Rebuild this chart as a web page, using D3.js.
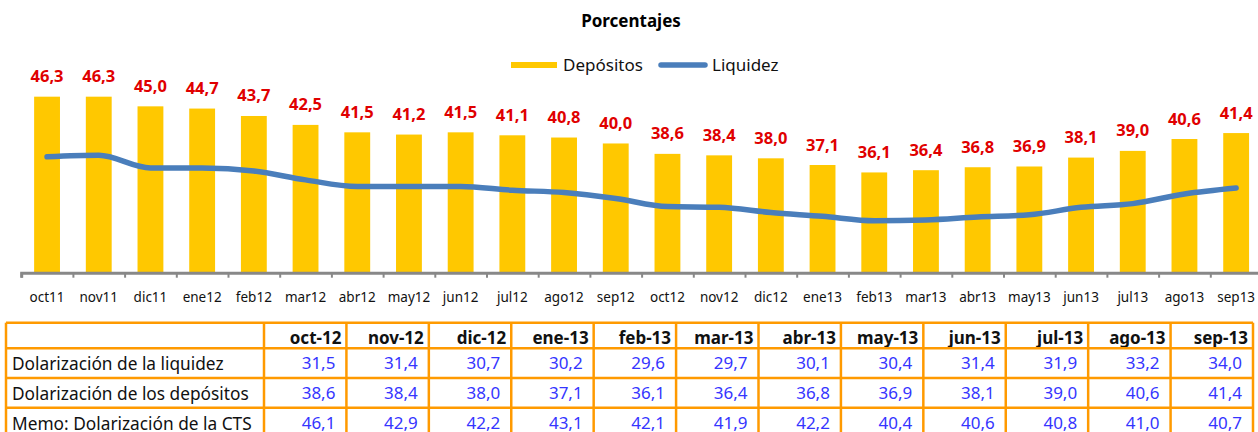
<!DOCTYPE html>
<html>
<head>
<meta charset="utf-8">
<script src="https://cdn.jsdelivr.net/npm/d3@7"></script>
<style>
  body { margin: 0; background: #fff; }
  svg { display: block; }
  text { font-family: "Noto Sans", "Open Sans", sans-serif; }
</style>
</head>
<body>
<div id="chart"></div>
<script>
// Dolarización: depósitos vs liquidez
const months = ["oct11","nov11","dic11","ene12","feb12","mar12","abr12","may12","jun12","jul12","ago12","sep12",
                "oct12","nov12","dic12","ene13","feb13","mar13","abr13","may13","jun13","jul13","ago13","sep13"];
const depositos = [46.3,46.3,45.0,44.7,43.7,42.5,41.5,41.2,41.5,41.1,40.8,40.0,
                   38.6,38.4,38.0,37.1,36.1,36.4,36.8,36.9,38.1,39.0,40.6,41.4];
const liquidez = [38.2,38.4,36.7,36.7,36.3,35.1,34.2,34.2,34.2,33.7,33.4,32.6,
                  31.5,31.4,30.7,30.2,29.6,29.7,30.1,30.4,31.4,31.9,33.2,34.0];

const tableCols = ["oct-12","nov-12","dic-12","ene-13","feb-13","mar-13","abr-13","may-13","jun-13","jul-13","ago-13","sep-13"];
const rowLabels = ["Dolarización de la liquidez","Dolarización de los depósitos","Memo: Dolarización de la CTS"];
const rowLiquidez = [31.5,31.4,30.7,30.2,29.6,29.7,30.1,30.4,31.4,31.9,33.2,34.0];
const rowDepositos = [38.6,38.4,38.0,37.1,36.1,36.4,36.8,36.9,38.1,39.0,40.6,41.4];
const rowCts = [46.1,42.9,42.2,43.1,42.1,41.9,42.2,40.4,40.6,40.8,41.0,40.7];

const W = 1258, H = 432;
const fmt = v => v.toFixed(1).replace(".", ",");

const svg = d3.select("#chart").append("svg")
    .attr("width", W).attr("height", H);

// Scales
const x = d3.scaleBand().domain(months).range([21.2, 1262]).paddingInner(0.5).paddingOuter(0.25);
const xEdge = d3.scaleLinear().domain([0, months.length]).range([21.2, 1262]);
const y = d3.scaleLinear().domain([22.6, 50]).range([272.7, 69.2]);

// Title
svg.append("text")
    .attr("x", 631).attr("y", 27)
    .attr("text-anchor", "middle")
    .attr("font-weight", "bold").attr("font-size", "17px")
    .text("Porcentajes");

// Legend
svg.append("rect").attr("x", 511).attr("y", 62).attr("width", 46).attr("height", 6).attr("fill", "#ffc800");
svg.append("text").attr("x", 563).attr("y", 70.5).attr("font-size", "17px").attr("fill", "#111").text("Depósitos");
svg.append("line").attr("x1", 661).attr("x2", 705).attr("y1", 65).attr("y2", 65)
    .attr("stroke", "#4a7ebb").attr("stroke-width", 5.5).attr("stroke-linecap", "round");
svg.append("text").attr("x", 712).attr("y", 70.5).attr("font-size", "17px").attr("fill", "#111").text("Liquidez");

// Bars
svg.selectAll(".bar")
    .data(depositos)
    .enter()
    .append("rect")
    .attr("class", "bar")
    .attr("x", (d, i) => x(months[i]))
    .attr("y", d => y(d))
    .attr("width", x.bandwidth())
    .attr("height", d => y.range()[0] - y(d))
    .attr("fill", "#ffc800");

// Bar labels
svg.selectAll(".lbl")
    .data(depositos)
    .enter()
    .append("text")
    .attr("class", "lbl")
    .attr("x", (d, i) => x(months[i]) + x.bandwidth() / 2)
    .attr("y", d => y(d) - 14.5)
    .attr("text-anchor", "middle")
    .attr("font-weight", "bold")
    .attr("font-size", "16.5px")
    .attr("fill", "#e00000")
    .text(fmt);

// Liquidez line
svg.append("path")
    .datum(liquidez)
    .attr("fill", "none")
    .attr("stroke", "#4a7ebb")
    .attr("stroke-width", 5.5)
    .attr("stroke-linecap", "round")
    .attr("stroke-linejoin", "round")
    .attr("d", d3.line()
        .x((d, i) => x(months[i]) + x.bandwidth() / 2)
        .y(d => y(d))
        .curve(d3.curveMonotoneX));

// X axis: tick marks at category boundaries
const axisG = svg.append("g")
    .attr("transform", `translate(0,${y.range()[0]})`)
    .call(d3.axisBottom(xEdge).ticks(months.length).tickSize(5).tickFormat(""));
axisG.select(".domain").attr("stroke", "#888").attr("stroke-width", 3);
axisG.selectAll(".tick line").attr("stroke", "#888").attr("stroke-width", 2);

// X labels
const labG = svg.append("g")
    .attr("transform", `translate(0,${y.range()[0]})`)
    .call(d3.axisBottom(x).tickSize(0).tickPadding(20));
labG.select(".domain").remove();
labG.selectAll("text")
    .attr("font-family", "'Noto Sans', sans-serif")
    .attr("font-size", "13.5px").attr("fill", "#111");

// Table
const tableRows = [rowLiquidez, rowDepositos, rowCts];
const tLeft = 6, tLabelRight = 264, tRight = 1253;
const headTop = 322.7, headH = 25.6, rowH = 29.7;
const cx = d3.scaleBand().domain(tableCols).range([tLabelRight, tRight]);
const rowTop = i => headTop + headH + i * rowH;

const tg = svg.append("g");
// header
tg.selectAll(".hd")
    .data(tableCols)
    .enter()
    .append("text")
    .attr("x", d => cx(d) + cx.bandwidth() - 5)
    .attr("y", headTop + 21)
    .attr("text-anchor", "end")
    .attr("font-weight", "bold")
    .attr("font-size", "17px")
    .attr("fill", "#111")
    .text(d => d);

// row labels
tg.selectAll(".rl")
    .data(rowLabels)
    .enter()
    .append("text")
    .attr("x", tLeft + 6)
    .attr("y", (d, i) => rowTop(i) + 22)
    .attr("font-size", "17.3px")
    .attr("fill", "#111")
    .text(d => d);

// values
tableRows.forEach((row, r) => {
    tg.selectAll(".v" + r)
        .data(row)
        .enter()
        .append("text")
        .attr("x", (d, i) => cx(tableCols[i]) + cx.bandwidth() - 11)
        .attr("y", rowTop(r) + 21)
        .attr("text-anchor", "end")
        .attr("font-family", "'Liberation Sans Narrow', 'Arial Narrow', 'Liberation Sans', sans-serif")
        .attr("font-size", "17px")
        .attr("fill", "#3535ff")
        .text(fmt);
});

// grid lines
const borderColor = "#ff9a00";
const hLines = [headTop, rowTop(0), rowTop(1), rowTop(2), rowTop(3)];
tg.selectAll(".hl")
    .data(hLines)
    .enter()
    .append("line")
    .attr("x1", tLeft).attr("x2", tRight)
    .attr("y1", d => d).attr("y2", d => d)
    .attr("stroke", borderColor).attr("stroke-width", 2.5);
const vLines = [tLeft, tLabelRight].concat(tableCols.map(c => cx(c) + cx.bandwidth()));
tg.selectAll(".vl")
    .data(vLines)
    .enter()
    .append("line")
    .attr("x1", d => d).attr("x2", d => d)
    .attr("y1", headTop).attr("y2", rowTop(3))
    .attr("stroke", borderColor).attr("stroke-width", 2.5);
</script>
</body>
</html>
